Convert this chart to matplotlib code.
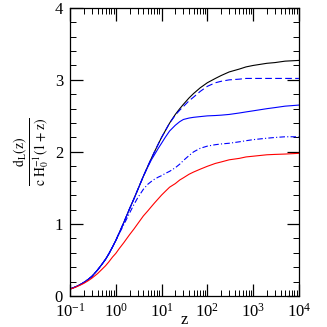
import matplotlib
matplotlib.use("Agg")
import matplotlib.pyplot as plt
from matplotlib.ticker import LogLocator, MultipleLocator, NullFormatter

plt.rcParams['font.family'] = ['Liberation Serif', 'DejaVu Serif']
plt.rcParams['mathtext.fontset'] = 'stix'

z = [0.1, 0.13, 0.17, 0.2, 0.25, 0.3, 0.4, 0.5, 0.6, 0.7, 0.85, 1, 1.2, 1.5, 2, 2.5, 3, 4,
     5, 6, 7, 8.5, 10, 12, 15, 20, 25, 30, 40, 50, 70, 100, 150, 200, 300, 500, 700,
     1000, 2000, 3000, 5000, 10000]

black = [0.096, 0.124, 0.160, 0.186, 0.23, 0.27, 0.36, 0.44, 0.51, 0.58, 0.68, 0.77, 0.88,
         1.02, 1.21, 1.35, 1.47, 1.66, 1.80, 1.91, 2.00, 2.11, 2.20, 2.29, 2.40, 2.52, 2.60,
         2.66, 2.75, 2.81, 2.89, 2.96, 3.02, 3.06, 3.11, 3.15, 3.18, 3.20, 3.23, 3.24, 3.26, 3.27]
blue_dashed = [0.096, 0.124, 0.160, 0.186, 0.23, 0.27, 0.36, 0.44, 0.51, 0.58, 0.68, 0.77, 0.88,
               1.02, 1.21, 1.35, 1.47, 1.66, 1.80, 1.91, 2.00, 2.11, 2.20, 2.29, 2.40, 2.51, 2.58,
               2.63, 2.71, 2.76, 2.84, 2.91, 2.96, 2.98, 3.00, 3.01, 3.02, 3.02, 3.02, 3.02, 3.02, 3.02]
blue_solid = [0.096, 0.124, 0.160, 0.186, 0.23, 0.27, 0.36, 0.44, 0.51, 0.58, 0.68, 0.77, 0.88,
              1.02, 1.21, 1.35, 1.47, 1.66, 1.79, 1.89, 1.96, 2.05, 2.12, 2.20, 2.29, 2.37, 2.42,
              2.45, 2.47, 2.48, 2.49, 2.50, 2.505, 2.51, 2.52, 2.54, 2.555, 2.57, 2.60, 2.615, 2.635, 2.65]
blue_dashdot = [0.096, 0.124, 0.160, 0.186, 0.23, 0.27, 0.36, 0.44, 0.51, 0.58, 0.68, 0.765, 0.87,
                0.99, 1.15, 1.27, 1.36, 1.48, 1.55, 1.59, 1.62, 1.65, 1.67, 1.70, 1.73, 1.78, 1.83,
                1.88, 1.95, 2.00, 2.05, 2.08, 2.10, 2.11, 2.12, 2.14, 2.155, 2.17, 2.19, 2.20, 2.21, 2.21]
red = [0.093, 0.119, 0.152, 0.174, 0.211, 0.246, 0.31, 0.37, 0.42, 0.47, 0.54, 0.59, 0.66,
       0.74, 0.85, 0.93, 1.00, 1.11, 1.18, 1.24, 1.29, 1.35, 1.40, 1.45, 1.51, 1.56, 1.61,
       1.64, 1.69, 1.72, 1.76, 1.80, 1.84, 1.86, 1.89, 1.91, 1.93, 1.94, 1.96, 1.965, 1.97, 1.98]

fig = plt.figure(figsize=(3.27, 3.27), dpi=100)
ax = fig.add_axes([0.214, 0.095, 0.70, 0.881])

lw = 0.8
ax.plot(z, black, color='black', lw=lw)
ax.plot(z, blue_dashed, color='blue', lw=lw, dashes=(6, 3))
ax.plot(z, blue_solid, color='blue', lw=lw)
ax.plot(z, blue_dashdot, color='blue', lw=lw, dashes=(5, 2, 1, 2))
ax.plot(z, red, color='red', lw=lw)

ax.set_xscale('log')
ax.set_xlim(0.1, 1e4)
ax.set_ylim(0, 4)
ax.xaxis.set_major_locator(LogLocator(base=10, numticks=10))
ax.xaxis.set_minor_locator(LogLocator(base=10, subs=range(2, 10), numticks=20))
ax.xaxis.set_minor_formatter(NullFormatter())
ax.yaxis.set_major_locator(MultipleLocator(1))
ax.yaxis.set_minor_locator(MultipleLocator(0.2))
ax.tick_params(which='both', direction='in', top=True, right=True, labelsize=12)
ax.tick_params(axis='y', pad=5)
ax.tick_params(axis='x', pad=5)
ax.tick_params(which='major', length=9, width=0.9)
ax.tick_params(which='minor', length=4.5, width=0.7)
for s in ax.spines.values():
    s.set_linewidth(0.9)

ax.set_xlabel('z', fontsize=12, labelpad=-6)
ax.set_ylabel(r'$\frac{\mathrm{d_L(z)}}{\mathrm{c\ H_0^{-1}(1+z)}}$', fontsize=14, labelpad=2)

fig.savefig('out.png', dpi=100)
